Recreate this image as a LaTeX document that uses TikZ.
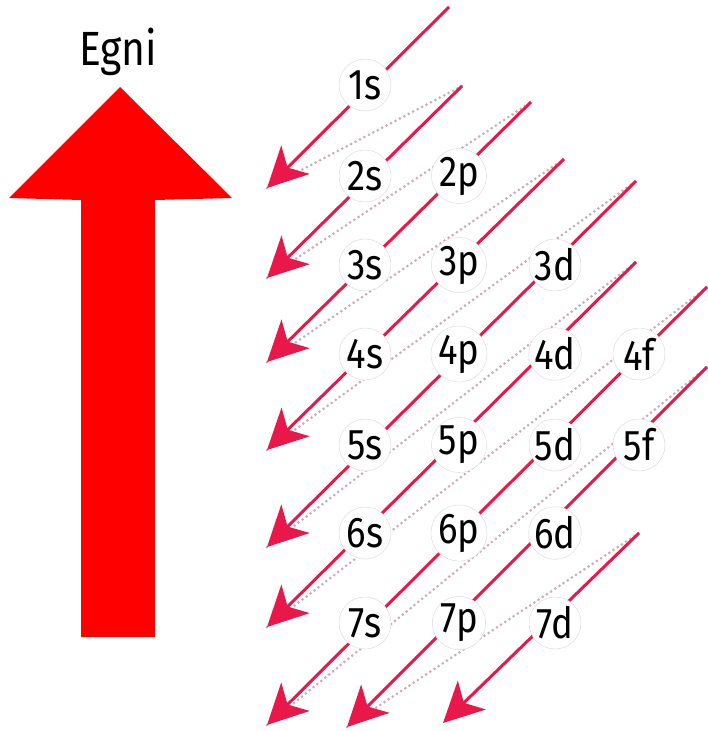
\documentclass[tikz,border=0pt]{standalone}
\usepackage{fontspec}
\usepackage{xcolor}
\usepackage{tikz}
\usetikzlibrary{arrows.meta}
\newfontfamily\orbfont[FakeStretch=0.85]{Fira Sans}
\definecolor{OrbRed}{HTML}{E8194A}
\definecolor{OrbDot}{HTML}{C9AEB8}
\definecolor{OrbRim}{HTML}{DDDDDD}
\definecolor{OrbBig}{HTML}{FF0000}
\tikzset{
  orbital/.style={circle,minimum size=52pt,inner sep=0pt,fill=white,draw=OrbRim,
    line width=0.5pt,font=\orbfont\fontsize{43}{43}\selectfont},
  fillarrow/.style={-{Stealth[length=40pt,width=40pt,inset=11pt]},line width=3pt,draw=OrbRed},
  dotline/.style={draw=OrbDot,line width=3pt,line cap=round,dash pattern=on 0pt off 5pt}
}
\begin{document}
\begin{tikzpicture}[x=1pt,y=-1pt]
  \useasboundingbox (0,0) rectangle (707,731);
  \fill[OrbBig] (81,637) -- (81,200) -- (9,198) -- (120,87) -- (232,198)
    -- (155,200) -- (155,637) -- cycle;
  \node[anchor=base,font=\orbfont\fontsize{48}{48}\selectfont] (energy) at (118,65) {Egni};
  \foreach \i/\ax/\ay/\tx/\ty in {1/449/7/267/188, 2/462/86/267/278, 3/531/102/267/362,
      4/564/159/267/450, 5/636/181/267/547, 6/636/262/267/627, 7/707/287/267/725,
      8/707/367/347/727, 9/639/533/443/723}{
    \coordinate (a\i) at (\ax,\ay);
    \coordinate (t\i) at (\tx,\ty);
  }
  \foreach \i/\j in {1/2,2/3,3/4,4/5,5/6,6/7,7/8,8/9}
    \draw[dotline] (t\i) -- (a\j);
  \foreach \i in {1,...,9}
    \draw[fillarrow] (a\i) -- (t\i);
  \foreach \lab/\x/\y in {1s/365/85, 2s/365/176, 2p/459/176, 3s/365/265, 3p/459/265,
      3d/555/265, 4s/365/354, 4p/459/354, 4d/555/354, 4f/639/354, 5s/365/445,
      5p/459/445, 5d/555/445, 5f/639/445, 6s/365/533, 6p/459/533, 6d/555/533,
      7s/365/623, 7p/459/623, 7d/555/623}
    \node[orbital] (o\lab) at (\x,\y) {\lab};
\end{tikzpicture}
\end{document}
